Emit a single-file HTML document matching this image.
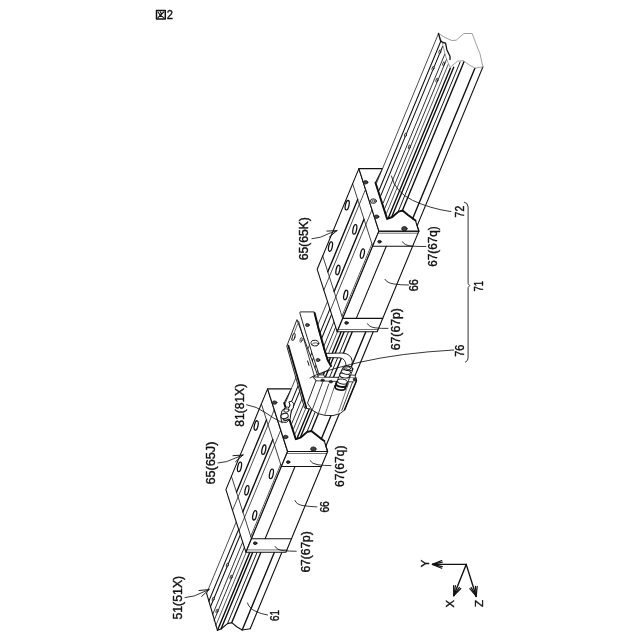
<!DOCTYPE html>
<html><head><meta charset="utf-8"><style>
html,body{margin:0;padding:0;background:#fff;}
svg{display:block;}
text{font-family:"Liberation Sans",sans-serif;fill:#111;stroke:#111;stroke-width:0.4px;}
svg{filter:grayscale(1);}
</style></head><body>
<svg width="640" height="640" viewBox="0 0 640 640">
<rect width="640" height="640" fill="#fff"/>
<g stroke-linecap="round" stroke-linejoin="round">
<polygon points="206.6,593.4 217.5,630.3 221.0,629.0 227.5,623.6 231.8,622.6 236.7,626.7 242.2,630.0 250.2,628.7 291.6,528.9 247.2,495.5" fill="#fff" stroke="none" stroke-width="1.1" />
<line x1="247.2" y1="495.5" x2="206.6" y2="593.4" stroke="#111" stroke-width="0.75"/>
<line x1="249.6" y1="503.0" x2="208.8" y2="601.3" stroke="#111" stroke-width="1.05"/>
<line x1="251.3" y1="508.3" x2="210.4" y2="607.0" stroke="#111" stroke-width="1.05"/>
<line x1="253.6" y1="515.6" x2="212.6" y2="614.7" stroke="#111" stroke-width="0.85"/>
<line x1="255.3" y1="521.0" x2="214.1" y2="620.4" stroke="#111" stroke-width="0.85"/>
<line x1="257.0" y1="526.1" x2="215.7" y2="625.8" stroke="#111" stroke-width="0.7"/>
<line x1="258.9" y1="530.3" x2="217.5" y2="630.3" stroke="#111" stroke-width="1.4"/>
<line x1="262.3" y1="529.2" x2="221.0" y2="629.0" stroke="#111" stroke-width="1.4"/>
<line x1="268.8" y1="524.0" x2="227.5" y2="623.6" stroke="#111" stroke-width="0.95"/>
<line x1="273.0" y1="523.1" x2="231.8" y2="622.6" stroke="#111" stroke-width="1.4"/>
<line x1="283.6" y1="530.0" x2="242.2" y2="630.0" stroke="#111" stroke-width="1.4"/>
<line x1="291.6" y1="528.9" x2="250.2" y2="628.7" stroke="#111" stroke-width="1.15"/>
<polyline points="206.6,593.4 217.5,630.3 221.0,629.0 227.5,623.6 231.8,622.6 236.7,626.7 242.2,630.0 250.2,628.7" fill="none" stroke="#111" stroke-width="1.15" />
<ellipse cx="227.3" cy="565.1" rx="0.9" ry="2.0" transform="rotate(14 227.3 565.1)" fill="#fff" stroke="#111" stroke-width="0.8"/>
<ellipse cx="231.1" cy="577.1" rx="0.9" ry="2.0" transform="rotate(14 231.1 577.1)" fill="#fff" stroke="#111" stroke-width="0.8"/>
<ellipse cx="213.2" cy="599.1" rx="0.9" ry="2.0" transform="rotate(14 213.2 599.1)" fill="#fff" stroke="#111" stroke-width="0.8"/>
<ellipse cx="217.0" cy="611.1" rx="0.9" ry="2.0" transform="rotate(14 217.0 611.1)" fill="#fff" stroke="#111" stroke-width="0.8"/>
<polygon points="225.9,489.6 245.9,552.2 287.6,451.5 267.6,388.9" fill="#fff" stroke="#111" stroke-width="1.1" />
<line x1="231.4" y1="476.2" x2="251.5" y2="538.8" stroke="#111" stroke-width="0.8"/>
<line x1="261.4" y1="404.0" x2="281.4" y2="466.5" stroke="#111" stroke-width="0.8"/>
<line x1="266.5" y1="419.9" x2="236.5" y2="492.2" stroke="#111" stroke-width="1.4"/>
<line x1="274.3" y1="409.7" x2="232.5" y2="510.4" stroke="#111" stroke-width="0.75"/>
<line x1="272.8" y1="439.6" x2="242.8" y2="511.9" stroke="#111" stroke-width="1.4"/>
<line x1="280.8" y1="430.0" x2="239.0" y2="530.7" stroke="#111" stroke-width="0.75"/>
<line x1="280.7" y1="464.2" x2="250.7" y2="536.5" stroke="#111" stroke-width="0.7"/>
<ellipse cx="239.5" cy="466.9" rx="1.8" ry="4.8" transform="rotate(12 239.5 466.9)" fill="#fff" stroke="#111" stroke-width="1.3"/>
<ellipse cx="256.2" cy="425.5" rx="1.8" ry="4.8" transform="rotate(12 256.2 425.5)" fill="#fff" stroke="#111" stroke-width="1.3"/>
<ellipse cx="263.8" cy="449.7" rx="1.8" ry="4.8" transform="rotate(12 263.8 449.7)" fill="#fff" stroke="#111" stroke-width="1.3"/>
<ellipse cx="246.9" cy="490.3" rx="1.8" ry="4.8" transform="rotate(12 246.9 490.3)" fill="#fff" stroke="#111" stroke-width="1.3"/>
<ellipse cx="271.4" cy="473.9" rx="1.8" ry="4.8" transform="rotate(12 271.4 473.9)" fill="#fff" stroke="#111" stroke-width="1.3"/>
<ellipse cx="254.7" cy="515.3" rx="1.8" ry="4.8" transform="rotate(12 254.7 515.3)" fill="#fff" stroke="#111" stroke-width="1.3"/>
<polygon points="245.9,552.2 285.9,552.2 327.6,451.5 287.6,451.5" fill="#fff" stroke="#111" stroke-width="1.1" />
<line x1="251.5" y1="538.8" x2="291.5" y2="538.8" stroke="#111" stroke-width="1.1"/>
<line x1="281.4" y1="466.5" x2="321.4" y2="466.5" stroke="#111" stroke-width="1.1"/>
<line x1="295.0" y1="466.5" x2="265.1" y2="538.8" stroke="#111" stroke-width="1.1"/>
<line x1="246.9" y1="549.9" x2="286.9" y2="549.9" stroke="#111" stroke-width="0.6"/>
<line x1="286.8" y1="453.5" x2="326.8" y2="453.5" stroke="#111" stroke-width="0.6"/>
<ellipse cx="255.2" cy="543.2" rx="1.7" ry="1.3" transform="rotate(0 255.2 543.2)" fill="#333" stroke="#111" stroke-width="1.0"/>
<ellipse cx="288.2" cy="462.1" rx="1.7" ry="1.3" transform="rotate(0 288.2 462.1)" fill="#333" stroke="#111" stroke-width="1.0"/>
<polygon points="267.6,388.9 287.6,451.5 327.6,451.5 324.3,440.9 321.2,438.7 316.5,435.0 311.4,431.0 307.2,431.9 301.0,437.3 297.4,438.7 295.8,439.2 284.2,403.1 291.3,388.9" fill="#fff" stroke="#111" stroke-width="1.1" />
<ellipse cx="274.6" cy="402.6" rx="2.3" ry="1.7" transform="rotate(0 274.6 402.6)" fill="#444" stroke="#111" stroke-width="0.8"/>
<ellipse cx="285.6" cy="437.0" rx="2.3" ry="1.7" transform="rotate(0 285.6 437.0)" fill="#444" stroke="#111" stroke-width="0.8"/>
<ellipse cx="313.4" cy="449.0" rx="2.7" ry="2.1" transform="rotate(0 313.4 449.0)" fill="#444" stroke="#111" stroke-width="0.8"/>
<polygon points="285.4,403.1 297.2,437.9 300.6,436.8 307.1,431.6 311.3,430.7 316.3,434.6 321.3,439.0 326.0,445.7 381.5,311.7 337.1,278.3" fill="#fff" stroke="none" stroke-width="1.1" />
<line x1="337.1" y1="278.3" x2="285.4" y2="403.1" stroke="#111" stroke-width="0.75"/>
<line x1="339.5" y1="285.9" x2="287.8" y2="410.6" stroke="#111" stroke-width="1.05"/>
<line x1="341.2" y1="291.2" x2="289.5" y2="415.9" stroke="#111" stroke-width="1.05"/>
<line x1="343.6" y1="298.5" x2="291.9" y2="423.2" stroke="#111" stroke-width="0.85"/>
<line x1="345.3" y1="303.8" x2="293.6" y2="428.6" stroke="#111" stroke-width="0.85"/>
<line x1="346.9" y1="309.0" x2="295.2" y2="433.7" stroke="#111" stroke-width="0.7"/>
<line x1="348.8" y1="313.2" x2="297.2" y2="437.9" stroke="#111" stroke-width="1.4"/>
<line x1="352.3" y1="312.0" x2="300.6" y2="436.8" stroke="#111" stroke-width="1.4"/>
<line x1="358.7" y1="306.9" x2="307.1" y2="431.6" stroke="#111" stroke-width="0.95"/>
<line x1="362.9" y1="305.9" x2="311.3" y2="430.7" stroke="#111" stroke-width="1.4"/>
<line x1="373.6" y1="312.9" x2="321.3" y2="439.0" stroke="#111" stroke-width="1.4"/>
<line x1="381.5" y1="311.7" x2="326.0" y2="445.7" stroke="#111" stroke-width="1.15"/>
<polyline points="324.3,440.9 321.2,438.7 316.5,435.0 311.4,431.0 307.2,431.9 301.0,437.3 297.4,438.7 295.8,439.2 284.2,403.1" fill="none" stroke="#111" stroke-width="1.9" />
<line x1="327.6" y1="451.5" x2="324.3" y2="440.9" stroke="#111" stroke-width="1.1"/>
<polygon points="280.8,416.2 282.0,410.6 285.8,407.5 288.9,407.5 290.1,405.0 288.9,401.9 291.4,401.2 293.9,403.8 293.2,408.1 291.4,410.0 290.1,418.8 286.4,422.5 282.0,421.9" fill="#fff" stroke="#111" stroke-width="1.0" />
<ellipse cx="284.6" cy="416.0" rx="3.7" ry="2.5" transform="rotate(-12 284.6 416.0)" fill="#fff" stroke="#111" stroke-width="1.0"/>
<ellipse cx="286.4" cy="410.4" rx="2.7" ry="1.8" transform="rotate(-12 286.4 410.4)" fill="#fff" stroke="#111" stroke-width="0.9"/>
<ellipse cx="287.2" cy="408.0" rx="1.6" ry="1.0" transform="rotate(-12 287.2 408.0)" fill="#fff" stroke="#111" stroke-width="0.7"/>
<path d="M283.2,419.6 q2.4,2.0 5.2,-0.4" fill="none" stroke="#111" stroke-width="1.3"/>
<polygon points="296.8,320.0 286.8,346.2 304.5,408.0 316.0,410.0 320.0,382.0" fill="#fff" stroke="#111" stroke-width="0.9" />
<line x1="288.3" y1="345.6" x2="306.2" y2="407.3" stroke="#111" stroke-width="1.8"/>
<line x1="298.6" y1="321.2" x2="315.5" y2="380.0" stroke="#111" stroke-width="0.8"/>
<line x1="297.6" y1="324.0" x2="291.5" y2="340.0" stroke="#111" stroke-width="0.6"/>
<ellipse cx="293.6" cy="336.9" rx="1.3" ry="3.8" transform="rotate(14 293.6 336.9)" fill="#fff" stroke="#111" stroke-width="0.9"/>
<ellipse cx="301.1" cy="340.0" rx="1.0" ry="2.4" transform="rotate(14 301.1 340.0)" fill="#fff" stroke="#111" stroke-width="0.7"/>
<path d="M307.6,361 l1.4,4.4" fill="none" stroke="#111" stroke-width="1.0"/>
<polygon points="300.6,311.9 314.2,311.9 318.0,327.5 324.2,350.0 327.4,360.0 331.0,366.0 328.0,370.0 319.2,375.0 311.8,352.5 304.9,330.0 299.9,313.2" fill="#fff" stroke="#111" stroke-width="0.9" />
<path d="M314.6,313 L318.3,327.5 L324.6,350 L327.7,360 L331,366" fill="none" stroke="#111" stroke-width="2.0"/>
<ellipse cx="307.4" cy="325.0" rx="1.9" ry="1.5" transform="rotate(0 307.4 325.0)" fill="#555" stroke="#111" stroke-width="0.8"/>
<ellipse cx="318.0" cy="360.0" rx="1.9" ry="1.5" transform="rotate(0 318.0 360.0)" fill="#555" stroke="#111" stroke-width="0.8"/>
<ellipse cx="314.9" cy="343.1" rx="3.9" ry="2.9" transform="rotate(10 314.9 343.1)" fill="#fff" stroke="#111" stroke-width="0.9"/>
<path d="M312,344.5 q3,-3.5 6.3,-0.5" fill="none" stroke="#111" stroke-width="0.7"/>
<path d="M326.5,353.4 L342,353 Q351.5,353.5 352.3,361.5 L351.5,366.5 L346,366 Q346,358.8 340,357.8 L327.7,357.6 Z" fill="#fff" stroke="#111" stroke-width="0.9"/>
<polygon points="313.0,377.0 356.2,377.6 356.6,380.5 344.0,410.5 340.0,413.6 333.0,415.6 325.0,415.4 318.0,413.5 312.0,410.0 307.5,403.0 316.0,380.6" fill="#fff" stroke="#111" stroke-width="0.9" />
<line x1="316.2" y1="380.8" x2="353.5" y2="381.9" stroke="#111" stroke-width="0.8"/>
<line x1="322.5" y1="382.5" x2="312.4" y2="409.5" stroke="#111" stroke-width="0.8"/>
<line x1="328.8" y1="384.0" x2="318.6" y2="412.8" stroke="#111" stroke-width="0.8"/>
<line x1="335.0" y1="385.0" x2="325.0" y2="414.5" stroke="#111" stroke-width="0.6"/>
<line x1="352.6" y1="382.0" x2="341.8" y2="410.5" stroke="#111" stroke-width="0.8"/>
<line x1="349.0" y1="382.0" x2="338.5" y2="412.0" stroke="#111" stroke-width="0.6"/>
<ellipse cx="322.6" cy="380.2" rx="1.8" ry="1.2" transform="rotate(0 322.6 380.2)" fill="#333" stroke="#111" stroke-width="0.6"/>
<ellipse cx="330.8" cy="381.8" rx="1.8" ry="1.2" transform="rotate(0 330.8 381.8)" fill="#333" stroke="#111" stroke-width="0.6"/>
<ellipse cx="354.6" cy="379.4" rx="1.4" ry="1.6" transform="rotate(0 354.6 379.4)" fill="#333" stroke="#111" stroke-width="0.6"/>
<line x1="344.6" y1="410.0" x2="356.4" y2="380.8" stroke="#111" stroke-width="1.5"/>
<path d="M318,377 l1,-2.2 l5,0.2 l0.6,2.2" fill="#fff" stroke="#111" stroke-width="0.8"/>
<path d="M349,377.4 l0.6,-2.4 l5.2,0.2 l0.8,2.4" fill="#fff" stroke="#111" stroke-width="0.8"/>
<polygon points="335.2,386.6 345.4,388.2 353.2,368.6 343.4,367.2" fill="#fff" stroke="#111" stroke-width="0.9" />
<ellipse cx="340.2" cy="387.4" rx="5.2" ry="2.6" transform="rotate(8 340.2 387.4)" fill="#fff" stroke="#111" stroke-width="1.7"/>
<ellipse cx="341.4" cy="384.2" rx="5.4" ry="2.7" transform="rotate(8 341.4 384.2)" fill="#fff" stroke="#111" stroke-width="1.9"/>
<ellipse cx="342.4" cy="381.6" rx="5.0" ry="2.5" transform="rotate(8 342.4 381.6)" fill="#fff" stroke="#111" stroke-width="0.9"/>
<ellipse cx="344.6" cy="375.4" rx="5.0" ry="2.5" transform="rotate(8 344.6 375.4)" fill="#fff" stroke="#111" stroke-width="1.0"/>
<ellipse cx="346.0" cy="372.0" rx="4.6" ry="2.3" transform="rotate(8 346.0 372.0)" fill="#fff" stroke="#111" stroke-width="0.9"/>
<ellipse cx="348.2" cy="368.4" rx="4.4" ry="2.2" transform="rotate(8 348.2 368.4)" fill="#fff" stroke="#111" stroke-width="1.0"/>
<ellipse cx="348.2" cy="368.2" rx="2.6" ry="1.3" transform="rotate(8 348.2 368.2)" fill="#fff" stroke="#111" stroke-width="0.8"/>
<polygon points="317.2,269.3 337.2,331.8 378.9,231.1 358.9,168.6" fill="#fff" stroke="#111" stroke-width="1.1" />
<line x1="322.7" y1="255.9" x2="342.7" y2="318.4" stroke="#111" stroke-width="0.8"/>
<line x1="352.6" y1="183.6" x2="372.7" y2="246.2" stroke="#111" stroke-width="0.8"/>
<line x1="357.7" y1="199.6" x2="327.8" y2="271.8" stroke="#111" stroke-width="1.4"/>
<line x1="365.5" y1="189.4" x2="323.8" y2="290.1" stroke="#111" stroke-width="0.75"/>
<line x1="364.0" y1="219.3" x2="334.1" y2="291.5" stroke="#111" stroke-width="1.4"/>
<line x1="372.0" y1="209.7" x2="330.3" y2="310.4" stroke="#111" stroke-width="0.75"/>
<line x1="371.9" y1="243.9" x2="342.0" y2="316.1" stroke="#111" stroke-width="0.7"/>
<ellipse cx="330.5" cy="246.6" rx="1.8" ry="4.8" transform="rotate(12 330.5 246.6)" fill="#fff" stroke="#111" stroke-width="1.3"/>
<ellipse cx="347.2" cy="205.2" rx="1.8" ry="4.8" transform="rotate(12 347.2 205.2)" fill="#fff" stroke="#111" stroke-width="1.3"/>
<ellipse cx="354.8" cy="229.4" rx="1.8" ry="4.8" transform="rotate(12 354.8 229.4)" fill="#fff" stroke="#111" stroke-width="1.3"/>
<ellipse cx="337.9" cy="270.0" rx="1.8" ry="4.8" transform="rotate(12 337.9 270.0)" fill="#fff" stroke="#111" stroke-width="1.3"/>
<ellipse cx="362.4" cy="253.6" rx="1.8" ry="4.8" transform="rotate(12 362.4 253.6)" fill="#fff" stroke="#111" stroke-width="1.3"/>
<ellipse cx="345.7" cy="295.0" rx="1.8" ry="4.8" transform="rotate(12 345.7 295.0)" fill="#fff" stroke="#111" stroke-width="1.3"/>
<polygon points="337.2,331.8 377.2,331.8 418.9,231.1 378.9,231.1" fill="#fff" stroke="#111" stroke-width="1.1" />
<line x1="342.7" y1="318.4" x2="382.7" y2="318.4" stroke="#111" stroke-width="1.1"/>
<line x1="372.7" y1="246.2" x2="412.7" y2="246.2" stroke="#111" stroke-width="1.1"/>
<line x1="386.3" y1="246.2" x2="356.3" y2="318.4" stroke="#111" stroke-width="1.1"/>
<line x1="338.1" y1="329.5" x2="378.1" y2="329.5" stroke="#111" stroke-width="0.6"/>
<line x1="378.1" y1="233.2" x2="418.1" y2="233.2" stroke="#111" stroke-width="0.6"/>
<ellipse cx="346.5" cy="322.9" rx="1.7" ry="1.3" transform="rotate(0 346.5 322.9)" fill="#333" stroke="#111" stroke-width="1.0"/>
<ellipse cx="379.5" cy="241.7" rx="1.7" ry="1.3" transform="rotate(0 379.5 241.7)" fill="#333" stroke="#111" stroke-width="1.0"/>
<polygon points="358.9,168.6 378.9,231.1 418.9,231.1 415.5,220.6 412.5,218.3 407.7,214.7 402.6,210.6 398.4,211.6 392.3,217.0 388.7,218.3 387.1,218.9 375.5,182.7 382.6,168.6" fill="#fff" stroke="#111" stroke-width="1.1" />
<ellipse cx="365.6" cy="182.3" rx="2.3" ry="1.7" transform="rotate(0 365.6 182.3)" fill="#444" stroke="#111" stroke-width="0.8"/>
<ellipse cx="376.6" cy="216.7" rx="2.3" ry="1.7" transform="rotate(0 376.6 216.7)" fill="#444" stroke="#111" stroke-width="0.8"/>
<ellipse cx="404.4" cy="228.7" rx="2.7" ry="2.1" transform="rotate(0 404.4 228.7)" fill="#444" stroke="#111" stroke-width="0.8"/>
<ellipse cx="373.4" cy="201.1" rx="3.0" ry="2.3" transform="rotate(0 373.4 201.1)" fill="#fff" stroke="#111" stroke-width="0.9"/>
<ellipse cx="373.4" cy="201.1" rx="1.5" ry="1.1" transform="rotate(0 373.4 201.1)" fill="#fff" stroke="#111" stroke-width="0.7"/>
<polygon points="376.7,182.7 388.5,217.6 391.9,216.4 398.3,211.3 402.5,210.3 407.6,214.2 412.6,218.7 417.3,225.4 482.9,66.9 438.5,33.5" fill="#fff" stroke="none" stroke-width="1.1" />
<line x1="438.5" y1="33.5" x2="376.7" y2="182.7" stroke="#111" stroke-width="0.75"/>
<line x1="440.9" y1="41.0" x2="379.1" y2="190.2" stroke="#111" stroke-width="1.05"/>
<line x1="442.6" y1="46.4" x2="380.8" y2="195.6" stroke="#111" stroke-width="1.05"/>
<line x1="445.0" y1="53.7" x2="383.2" y2="202.9" stroke="#111" stroke-width="0.85"/>
<line x1="446.7" y1="59.0" x2="384.9" y2="208.2" stroke="#111" stroke-width="0.85"/>
<line x1="448.3" y1="64.2" x2="386.5" y2="213.4" stroke="#111" stroke-width="0.7"/>
<line x1="450.3" y1="68.3" x2="388.5" y2="217.6" stroke="#111" stroke-width="1.4"/>
<line x1="453.7" y1="67.2" x2="391.9" y2="216.4" stroke="#111" stroke-width="1.4"/>
<line x1="460.1" y1="62.1" x2="398.3" y2="211.3" stroke="#111" stroke-width="0.95"/>
<line x1="464.3" y1="61.1" x2="402.5" y2="210.3" stroke="#111" stroke-width="1.4"/>
<line x1="475.0" y1="68.1" x2="412.6" y2="218.7" stroke="#111" stroke-width="1.4"/>
<line x1="482.9" y1="66.9" x2="417.3" y2="225.4" stroke="#111" stroke-width="1.15"/>
<ellipse cx="439.9" cy="51.8" rx="0.9" ry="2.0" transform="rotate(14 439.9 51.8)" fill="#fff" stroke="#111" stroke-width="0.8"/>
<ellipse cx="443.7" cy="63.8" rx="0.9" ry="2.0" transform="rotate(14 443.7 63.8)" fill="#fff" stroke="#111" stroke-width="0.8"/>
<ellipse cx="433.0" cy="68.4" rx="0.9" ry="2.0" transform="rotate(14 433.0 68.4)" fill="#fff" stroke="#111" stroke-width="0.8"/>
<ellipse cx="436.9" cy="80.3" rx="0.9" ry="2.0" transform="rotate(14 436.9 80.3)" fill="#fff" stroke="#111" stroke-width="0.8"/>
<ellipse cx="405.5" cy="135.0" rx="0.9" ry="2.0" transform="rotate(14 405.5 135.0)" fill="#fff" stroke="#111" stroke-width="0.8"/>
<ellipse cx="409.3" cy="146.9" rx="0.9" ry="2.0" transform="rotate(14 409.3 146.9)" fill="#fff" stroke="#111" stroke-width="0.8"/>
<polyline points="415.5,220.6 412.5,218.3 407.7,214.7 402.6,210.6 398.4,211.6 392.3,217.0 388.7,218.3 387.1,218.9 375.5,182.7" fill="none" stroke="#111" stroke-width="1.9" />
<line x1="418.9" y1="231.1" x2="415.5" y2="220.6" stroke="#111" stroke-width="1.1"/>
<polygon points="438.5,33.5 445.0,37.5 451.9,40.6 456.2,40.2 463.8,33.5 472.2,33.5 475.0,41.2 480.0,53.8 482.9,66.9 475.0,68.1 469.4,65.0 463.1,60.6 457.5,61.2 450.0,67.5 446.0,57.5 442.2,42.5" fill="#fff" stroke="#777" stroke-width="0.7" />
<polyline points="438.5,33.5 440.6,41.2 443.1,42.5 445.6,43.1 446.9,50.0 450.0,56.2 450.0,59.6" fill="none" stroke="#111" stroke-width="1.3" />
<text transform="translate(182.4,619.6) rotate(-90)" font-size="12.1" textLength="43.8" lengthAdjust="spacingAndGlyphs">51(51X)</text>
<text transform="translate(278.9,621.0) rotate(-90)" font-size="12.1" textLength="11" lengthAdjust="spacingAndGlyphs">61</text>
<text transform="translate(215.4,484.6) rotate(-90)" font-size="12.1" textLength="43" lengthAdjust="spacingAndGlyphs">65(65J)</text>
<text transform="translate(328.5,512.6) rotate(-90)" font-size="12.1" textLength="11.4" lengthAdjust="spacingAndGlyphs">66</text>
<text transform="translate(309.5,572.6) rotate(-90)" font-size="12.1" textLength="41.4" lengthAdjust="spacingAndGlyphs">67(67p)</text>
<text transform="translate(343.9,487.0) rotate(-90)" font-size="12.1" textLength="41.4" lengthAdjust="spacingAndGlyphs">67(67q)</text>
<text transform="translate(243.9,426.8) rotate(-90)" font-size="12.1" textLength="43" lengthAdjust="spacingAndGlyphs">81(81X)</text>
<text transform="translate(463.9,356.8) rotate(-90)" font-size="12.1" textLength="12" lengthAdjust="spacingAndGlyphs">76</text>
<text transform="translate(399.9,350.2) rotate(-90)" font-size="12.1" textLength="42" lengthAdjust="spacingAndGlyphs">67(67p)</text>
<text transform="translate(418.3,291.2) rotate(-90)" font-size="12.1" textLength="12" lengthAdjust="spacingAndGlyphs">66</text>
<text transform="translate(437.3,266.8) rotate(-90)" font-size="12.1" textLength="40.4" lengthAdjust="spacingAndGlyphs">67(67q)</text>
<text transform="translate(463.9,217.4) rotate(-90)" font-size="12.1" textLength="11.6" lengthAdjust="spacingAndGlyphs">72</text>
<text transform="translate(482.5,291.6) rotate(-90)" font-size="12.1" textLength="10.6" lengthAdjust="spacingAndGlyphs">71</text>
<text transform="translate(308.4,260.2) rotate(-90)" font-size="12.1" textLength="43" lengthAdjust="spacingAndGlyphs">65(65K)</text>
<path d="M247.5,603 Q249,608 255,611 T267.5,615" fill="none" stroke="#111" stroke-width="0.85"/>
<path d="M310,460.6 Q312,464 318,464.8 T331,465.6" fill="none" stroke="#111" stroke-width="0.85"/>
<path d="M295,500.6 Q296.5,504.6 303,505.6 T316.9,506.9" fill="none" stroke="#111" stroke-width="0.85"/>
<path d="M275.2,546.6 Q277,550 283,550.6 T296.25,551.25" fill="none" stroke="#111" stroke-width="0.85"/>
<path d="M246.6,404.7 Q256,406 266,413 T282.5,422.7" fill="none" stroke="#111" stroke-width="0.85"/>
<path d="M453.75,350 Q400,353 360,362.2 T310,378" fill="none" stroke="#111" stroke-width="0.85"/>
<path d="M367.5,323.75 Q369,327 375,327.8 T388,328.4" fill="none" stroke="#111" stroke-width="0.85"/>
<path d="M385,279.4 Q387,283 394,284 T408.6,285" fill="none" stroke="#111" stroke-width="0.85"/>
<path d="M402.5,241.8 Q404.5,245.4 411,246 T425.9,246.5" fill="none" stroke="#111" stroke-width="0.85"/>
<path d="M391.4,176 Q395,192 412.5,200.3 T451,211.6" fill="none" stroke="#111" stroke-width="0.85"/>
<path d="M185,597.6 Q195,596.8 202,592.6 L209,589.6" fill="none" stroke="#111" stroke-width="0.85"/>
<line x1="209.0" y1="589.6" x2="201.7" y2="596.4" stroke="#111" stroke-width="0.95"/>
<line x1="209.0" y1="589.6" x2="199.0" y2="590.5" stroke="#111" stroke-width="0.95"/>
<path d="M218,463 Q227,462.6 235,458.2 L243,455" fill="none" stroke="#111" stroke-width="0.85"/>
<line x1="243.0" y1="455.0" x2="235.5" y2="461.7" stroke="#111" stroke-width="0.95"/>
<line x1="243.0" y1="455.0" x2="233.0" y2="455.7" stroke="#111" stroke-width="0.95"/>
<path d="M311.9,238.75 Q321,238.2 328.75,233.6 L336.9,230.6" fill="none" stroke="#111" stroke-width="0.85"/>
<line x1="336.9" y1="230.6" x2="329.3" y2="237.1" stroke="#111" stroke-width="0.95"/>
<line x1="336.9" y1="230.6" x2="326.9" y2="231.1" stroke="#111" stroke-width="0.95"/>
<path d="M464.4,202.2 Q467.8,202.6 468.1,207 L468.1,283.6 L469.6,285.6 L468.1,287.6 L468.1,358 Q468,361 465.4,362.2" fill="none" stroke="#333" stroke-width="1.0"/>
<line x1="466.2" y1="564.4" x2="432.5" y2="564.4" stroke="#111" stroke-width="1.4"/>
<line x1="432.5" y1="564.4" x2="441.7" y2="560.5" stroke="#111" stroke-width="1.2"/>
<line x1="432.5" y1="564.4" x2="441.7" y2="568.3" stroke="#111" stroke-width="1.2"/>
<line x1="432.5" y1="564.4" x2="442.3" y2="562.2" stroke="#111" stroke-width="1.2"/>
<line x1="432.5" y1="564.4" x2="442.3" y2="566.6" stroke="#111" stroke-width="1.2"/>
<line x1="466.2" y1="564.4" x2="453.8" y2="595.6" stroke="#111" stroke-width="1.4"/>
<line x1="453.8" y1="595.6" x2="453.6" y2="585.6" stroke="#111" stroke-width="1.2"/>
<line x1="453.8" y1="595.6" x2="460.8" y2="588.5" stroke="#111" stroke-width="1.2"/>
<line x1="453.8" y1="595.6" x2="455.4" y2="585.7" stroke="#111" stroke-width="1.2"/>
<line x1="453.8" y1="595.6" x2="459.4" y2="587.4" stroke="#111" stroke-width="1.2"/>
<line x1="466.2" y1="564.4" x2="476.2" y2="596.2" stroke="#111" stroke-width="1.4"/>
<line x1="476.2" y1="596.2" x2="469.8" y2="588.6" stroke="#111" stroke-width="1.2"/>
<line x1="476.2" y1="596.2" x2="477.2" y2="586.3" stroke="#111" stroke-width="1.2"/>
<line x1="476.2" y1="596.2" x2="471.2" y2="587.6" stroke="#111" stroke-width="1.2"/>
<line x1="476.2" y1="596.2" x2="475.4" y2="586.3" stroke="#111" stroke-width="1.2"/>
<text transform="translate(429.2,559.6) rotate(-90)" font-size="11" text-anchor="end" textLength="7.6" lengthAdjust="spacingAndGlyphs">Y</text>
<text transform="translate(454.3,607.5) rotate(-90)" font-size="11" textLength="7.6" lengthAdjust="spacingAndGlyphs">X</text>
<text transform="translate(483.1,607.1) rotate(-90)" font-size="11" textLength="7.2" lengthAdjust="spacingAndGlyphs">Z</text>
<g stroke="#111" stroke-width="1.1" fill="none"><rect x="156.5" y="10.4" width="8.8" height="8.5" stroke-width="1.5"/><path d="M158.2,12.2 l1.2,1.8 M160.3,11.9 l1.1,1.8 M163.8,12.0 L158,17.6 M159.6,14.8 L163.8,17.6"/></g>
<text x="166.8" y="18.9" font-size="12.5" textLength="6.2" lengthAdjust="spacingAndGlyphs">2</text>

</g>
</svg>
</body></html>
